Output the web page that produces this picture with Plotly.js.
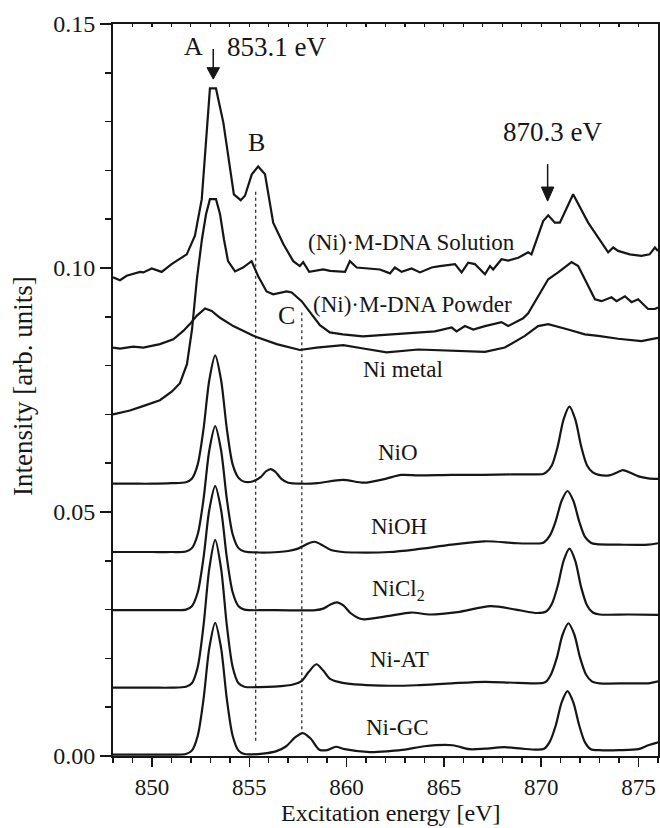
<!DOCTYPE html>
<html><head><meta charset="utf-8">
<script src="https://cdn.plot.ly/plotly-3.0.1.min.js"></script>
<style>html,body{margin:0;padding:0;background:#fff}#chart{width:660px;height:828px}</style>
</head><body><div id="chart"></div>
<script>
// ---- data (energy in eV, intensity in arb. units, offsets as plotted) ----
const solutionE = [848.00,848.36,848.70,849.39,849.56,849.99,850.50,851.01,851.79,852.21,852.56,852.98,853.29,853.67,854.21,854.56,854.78,855.13,855.46,855.81,856.23,856.75,857.26,857.60,857.77,858.08,858.80,859.15,859.92,860.17,860.52,861.20,861.71,862.23,862.48,862.83,863.34,863.77,864.37,864.79,865.57,865.91,866.25,866.59,867.11,867.37,867.53,867.96,868.30,868.82,869.33,869.50,870.10,870.36,870.70,870.96,871.64,872.41,873.44,873.70,873.95,874.55,875.15,875.57,875.84,876.00];
const solutionI = [0.0981,0.0975,0.0984,0.0992,0.0991,0.0999,0.0992,0.1008,0.1028,0.1066,0.1141,0.1368,0.1368,0.1298,0.1151,0.1139,0.1148,0.1192,0.1208,0.1192,0.1093,0.1049,0.1014,0.1004,0.1012,0.0992,0.0997,0.0994,0.0992,0.1014,0.1001,0.0999,0.0997,0.0989,0.1001,0.0992,0.0999,0.0991,0.1001,0.1004,0.1008,0.0991,0.1011,0.1008,0.0987,0.1004,0.0997,0.1018,0.1015,0.1021,0.1032,0.1028,0.1096,0.1108,0.1093,0.1093,0.1151,0.1093,0.1032,0.1042,0.1035,0.1028,0.1025,0.1028,0.1042,0.1035];

const powderE = [848.00,848.87,849.54,850.41,851.03,851.44,851.80,852.06,852.31,852.57,852.78,852.98,853.29,853.50,853.70,853.91,854.27,854.68,855.12,855.46,855.89,856.23,856.92,857.18,857.69,858.12,858.63,859.14,859.81,860.84,862.23,863.34,864.54,865.40,865.65,866.08,866.51,867.11,867.96,868.30,868.82,869.07,869.33,869.84,870.36,870.87,871.56,871.90,872.76,873.10,873.61,873.87,874.30,874.64,874.98,875.49,875.84,876.00];
const powderI = [0.0700,0.0708,0.0717,0.0729,0.0747,0.0764,0.0803,0.0874,0.0977,0.1059,0.1110,0.1141,0.1141,0.1110,0.1059,0.1014,0.0993,0.1001,0.1014,0.0983,0.0952,0.0946,0.0952,0.0950,0.0932,0.0909,0.0883,0.0868,0.0864,0.0860,0.0864,0.0868,0.0870,0.0878,0.0870,0.0881,0.0874,0.0881,0.0889,0.0881,0.0891,0.0897,0.0907,0.0942,0.0977,0.0991,0.1012,0.1004,0.0936,0.0932,0.0940,0.0932,0.0942,0.0930,0.0936,0.0916,0.0916,0.0919];

const metalE = [848.00,848.36,849.04,849.56,850.41,851.10,851.61,851.95,852.30,852.73,853.07,853.50,854.18,855.21,856.41,857.60,858.46,859.83,860.86,862.06,863.68,865.40,867.11,868.13,869.16,869.84,870.36,871.38,872.24,872.93,873.95,875.15,875.67,876.00];
const metalI = [0.0837,0.0835,0.0839,0.0837,0.0844,0.0854,0.0871,0.0885,0.0902,0.0917,0.0912,0.0898,0.0881,0.0861,0.0844,0.0832,0.0837,0.0842,0.0835,0.0827,0.0833,0.0830,0.0828,0.0837,0.0861,0.0881,0.0885,0.0874,0.0864,0.0861,0.0855,0.0850,0.0854,0.0857];

const nioE = [848,849,850,851,851.75,852.05,852.35,852.65,852.95,853.25,853.55,853.85,854.15,854.45,854.75,855.2,855.6,855.85,856.1,856.35,856.65,857.0,857.7,858.5,859.8,860.9,862.0,862.8,863.7,865.4,867.0,868.5,869.5,870.1,870.25,870.55,870.85,871.15,871.45,871.75,872.05,872.35,872.65,872.95,873.5,873.9,874.2,874.55,875.0,875.5,876.0];
const nioI = [0.0558,0.0558,0.0558,0.0559,0.0561,0.0568,0.0597,0.0670,0.0771,0.0821,0.0771,0.0670,0.0597,0.0570,0.0562,0.0563,0.0572,0.0583,0.0588,0.0582,0.0568,0.0560,0.0558,0.0559,0.0566,0.0560,0.0568,0.0576,0.0575,0.0576,0.0576,0.0577,0.0577,0.0578,0.0581,0.0596,0.0635,0.0690,0.0716,0.0690,0.0635,0.0596,0.0581,0.0576,0.0575,0.0581,0.0586,0.0581,0.0573,0.0569,0.0568];

const niohE = [848,850,851,851.75,852.05,852.35,852.65,852.95,853.25,853.55,853.85,854.15,854.45,854.75,855.5,856.5,857.0,857.5,857.9,858.35,858.8,859.2,859.8,860.5,862.2,863.5,865.4,867.1,868.8,870.0,870.15,870.45,870.75,871.05,871.35,871.65,871.95,872.25,872.55,872.85,874.0,875.5,876.0];
const niohI = [0.0418,0.0418,0.0418,0.0419,0.0426,0.0454,0.0526,0.0627,0.0676,0.0627,0.0526,0.0454,0.0426,0.0419,0.0417,0.0418,0.0420,0.0425,0.0433,0.0439,0.0431,0.0422,0.0418,0.0417,0.0418,0.0423,0.0433,0.0440,0.0436,0.0436,0.0438,0.0452,0.0482,0.0523,0.0543,0.0523,0.0481,0.0449,0.0437,0.0434,0.0433,0.0433,0.0436];

const nicl2E = [848,850,851,851.75,852.05,852.35,852.65,852.95,853.25,853.55,853.85,854.15,854.45,854.75,856.0,858.4,858.8,859.15,859.5,859.85,860.2,860.6,860.9,862.2,863.3,864.3,865.7,867.4,868.7,869.8,870.25,870.55,870.85,871.15,871.45,871.75,872.05,872.35,872.65,873.0,874.5,876.0];
const nicl2I = [0.0299,0.0299,0.0299,0.0300,0.0307,0.0335,0.0406,0.0505,0.0553,0.0505,0.0406,0.0335,0.0307,0.0300,0.0299,0.0299,0.0302,0.0310,0.0315,0.0308,0.0293,0.0283,0.0280,0.0287,0.0294,0.0290,0.0295,0.0307,0.0300,0.0293,0.0296,0.0312,0.0349,0.0400,0.0425,0.0400,0.0346,0.0309,0.0294,0.0290,0.0290,0.0289];

const niatE = [848,850,851,851.75,852.05,852.35,852.65,852.95,853.25,853.55,853.85,854.15,854.45,854.75,855.5,856.3,857.3,857.7,858.05,858.45,858.8,859.15,859.8,862.2,863.6,865.4,867.1,868.8,870.2,870.5,870.8,871.1,871.4,871.7,872.0,872.3,872.6,873.0,874.5,875.5,876.0];
const niatI = [0.0140,0.0140,0.0140,0.0142,0.0149,0.0182,0.0267,0.0385,0.0443,0.0385,0.0267,0.0182,0.0149,0.0142,0.0141,0.0142,0.0147,0.0154,0.0172,0.0188,0.0175,0.0158,0.0150,0.0144,0.0145,0.0149,0.0152,0.0150,0.0151,0.0167,0.0201,0.0249,0.0272,0.0249,0.0201,0.0167,0.0153,0.0149,0.0149,0.0149,0.0153];

const nigcE = [848,850,851,851.75,852.05,852.35,852.65,852.95,853.25,853.55,853.85,854.15,854.45,854.75,855.7,856.4,856.9,857.35,857.75,858.15,858.6,859.0,859.45,859.9,861.2,862.2,863.0,864.0,865.45,866.3,867.1,868.1,869.0,869.8,870.15,870.45,870.75,871.05,871.35,871.65,871.95,872.25,872.55,873.0,874.0,875.0,875.5,876.0];
const nigcI = [0.0003,0.0003,0.0003,0.0004,0.0011,0.0041,0.0116,0.0222,0.0273,0.0222,0.0116,0.0041,0.0011,0.0004,0.0005,0.0010,0.0020,0.0038,0.0047,0.0036,0.0013,0.0012,0.0019,0.0014,0.0008,0.0010,0.0013,0.0020,0.0022,0.0014,0.0015,0.0018,0.0015,0.0013,0.0015,0.0030,0.0063,0.0110,0.0133,0.0110,0.0063,0.0028,0.0014,0.0012,0.0012,0.0014,0.0022,0.0028];

// reference (dotted) lines B and C
const refLineE = [855.33, 857.70];
const refLineTop = [0.1161, 0.0909];
const refLineBottom = [0.0031, 0.0055];

// peak-marker arrows (853.1 eV and 870.3 eV)
const arrowE = [853.15, 870.33];
const arrowTail = [0.1449, 0.1213];
const arrowTip = [0.1387, 0.1137];

// axis ticks
const xTickVals = [850, 855, 860, 865, 870, 875];
const yTickVals = [0.00, 0.05, 0.10, 0.15];
const xTitle = 'Excitation energy [eV]';
const yTitle = 'Intensity [arb. units]';

// ---- drawing ----
const FONT = 'Liberation Serif, "Times New Roman", Times, serif';
const INK = '#161616';
function spectrum(x, y, smooth) {
  return {type:'scatter', mode:'lines', x:x, y:y, hoverinfo:'skip', showlegend:false,
          line:{color:INK, width:2.2, shape: smooth ? 'spline' : 'linear', smoothing:0.8}};
}
const traces = [];
for (let i = 0; i < refLineE.length; i++) {
  traces.push({type:'scatter', mode:'lines', x:[refLineE[i], refLineE[i]], y:[refLineBottom[i], refLineTop[i]],
    hoverinfo:'skip', showlegend:false, line:{color:'#333', width:1.3, dash:'dot'}});
}
traces.push(spectrum(solutionE, solutionI, false));
traces.push(spectrum(powderE, powderI, false));
traces.push(spectrum(metalE, metalI, false));
traces.push(spectrum(nioE, nioI, true));
traces.push(spectrum(niohE, niohI, true));
traces.push(spectrum(nicl2E, nicl2I, true));
traces.push(spectrum(niatE, niatI, true));
traces.push(spectrum(nigcE, nigcI, true));

// arrows: shaft + filled triangular head, drawn through the axes
for (let i = 0; i < arrowE.length; i++) {
  const headLen = (arrowTail[i] - arrowTip[i]) * 0.38;
  traces.push({type:'scatter', mode:'lines', x:[arrowE[i], arrowE[i]], y:[arrowTail[i], arrowTip[i] + headLen * 0.5],
    hoverinfo:'skip', showlegend:false, line:{color:INK, width:1.5}});
  traces.push({type:'scatter', mode:'lines', fill:'toself', fillcolor:INK,
    x:[arrowE[i] - 0.32, arrowE[i] + 0.32, arrowE[i], arrowE[i] - 0.32],
    y:[arrowTip[i] + headLen, arrowTip[i] + headLen, arrowTip[i], arrowTip[i] + headLen],
    hoverinfo:'skip', showlegend:false, line:{color:INK, width:1}});
}
// carrier for the top (inner) tick axis
traces.push({type:'scatter', mode:'lines', x:[848, 876], y:[0, 0], xaxis:'x2', yaxis:'y',
  hoverinfo:'skip', showlegend:false, line:{width:0, color:'rgba(0,0,0,0)'}});

function label(text, x, y, size, anchor) {
  return {text:text, x:x, y:y, xref:'x', yref:'y', showarrow:false,
          font:{family:FONT, size:size, color:INK}, xanchor:anchor || 'center', yanchor:'middle'};
}

const layout = {
  width:660, height:828,
  margin:{l:113, r:2, t:24, b:72},
  paper_bgcolor:'#fff', plot_bgcolor:'#fff',
  font:{family:FONT, color:INK},
  showlegend:false,
  xaxis:{
    range:[848, 876], tickvals:xTickVals, ticks:'outside', ticklen:9, tickwidth:1.5, tickcolor:INK,
    minor:{dtick:1, tick0:848, ticks:'outside', ticklen:5, tickwidth:1.5, tickcolor:INK},
    showline:true, linewidth:2, linecolor:INK, mirror:true, showgrid:false, zeroline:false,
    tickfont:{family:FONT, size:23, color:INK}
  },
  xaxis2:{
    overlaying:'x', side:'top', anchor:'y', range:[848, 876], showticklabels:false,
    tickvals:[849,850,851,852,853,854,855,856,857,858,859,860,861,862,863,864,865,866,867,868,869,870,871,872,873,874,875],
    ticks:'inside', ticklen:3, tickwidth:1.2, tickcolor:INK, showline:false, showgrid:false, zeroline:false
  },
  yaxis:{
    range:[0, 0.15], tickvals:yTickVals, tickformat:'.2f', ticks:'outside', ticklen:11, tickwidth:1.5, tickcolor:INK,
    minor:{dtick:0.01, tick0:0, ticks:'outside', ticklen:6, tickwidth:1.5, tickcolor:INK},
    showline:true, linewidth:2, linecolor:INK, mirror:true, showgrid:false, zeroline:false,
    tickfont:{family:FONT, size:24, color:INK}
  },
  annotations:[
    {text:xTitle, xref:'paper', yref:'paper', x:0.51, y:-0.0982, xanchor:'center', yanchor:'bottom',
     showarrow:false, font:{family:FONT, size:24, color:INK}},
    {text:yTitle, xref:'paper', yref:'paper', x:-0.165, y:0.5055, xanchor:'center', yanchor:'middle',
     textangle:-90, showarrow:false, font:{family:FONT, size:27, color:INK}},
    label('A', 852.16, 0.1453, 26),
    label('853.1 eV', 853.75, 0.1453, 27, 'left'),
    label('B', 855.38, 0.1257, 26),
    label('870.3 eV', 870.57, 0.1278, 27),
    label('(Ni)·M-DNA Solution', 863.34, 0.1052, 23),
    label('(Ni)·M-DNA Powder', 863.41, 0.0926, 23),
    label('C', 856.89, 0.0902, 26),
    label('Ni metal', 862.91, 0.0792, 23),
    label('NiO', 862.65, 0.0622, 23),
    label('NiOH', 862.70, 0.0470, 23),
    label('NiCl<sub>2</sub>', 862.65, 0.0340, 23),
    label('Ni-AT', 862.74, 0.0198, 23),
    label('Ni-GC', 862.61, 0.0059, 23)
  ]
};

Plotly.newPlot('chart', traces, layout, {staticPlot:true, displayModeBar:false});
</script>
</body></html>
